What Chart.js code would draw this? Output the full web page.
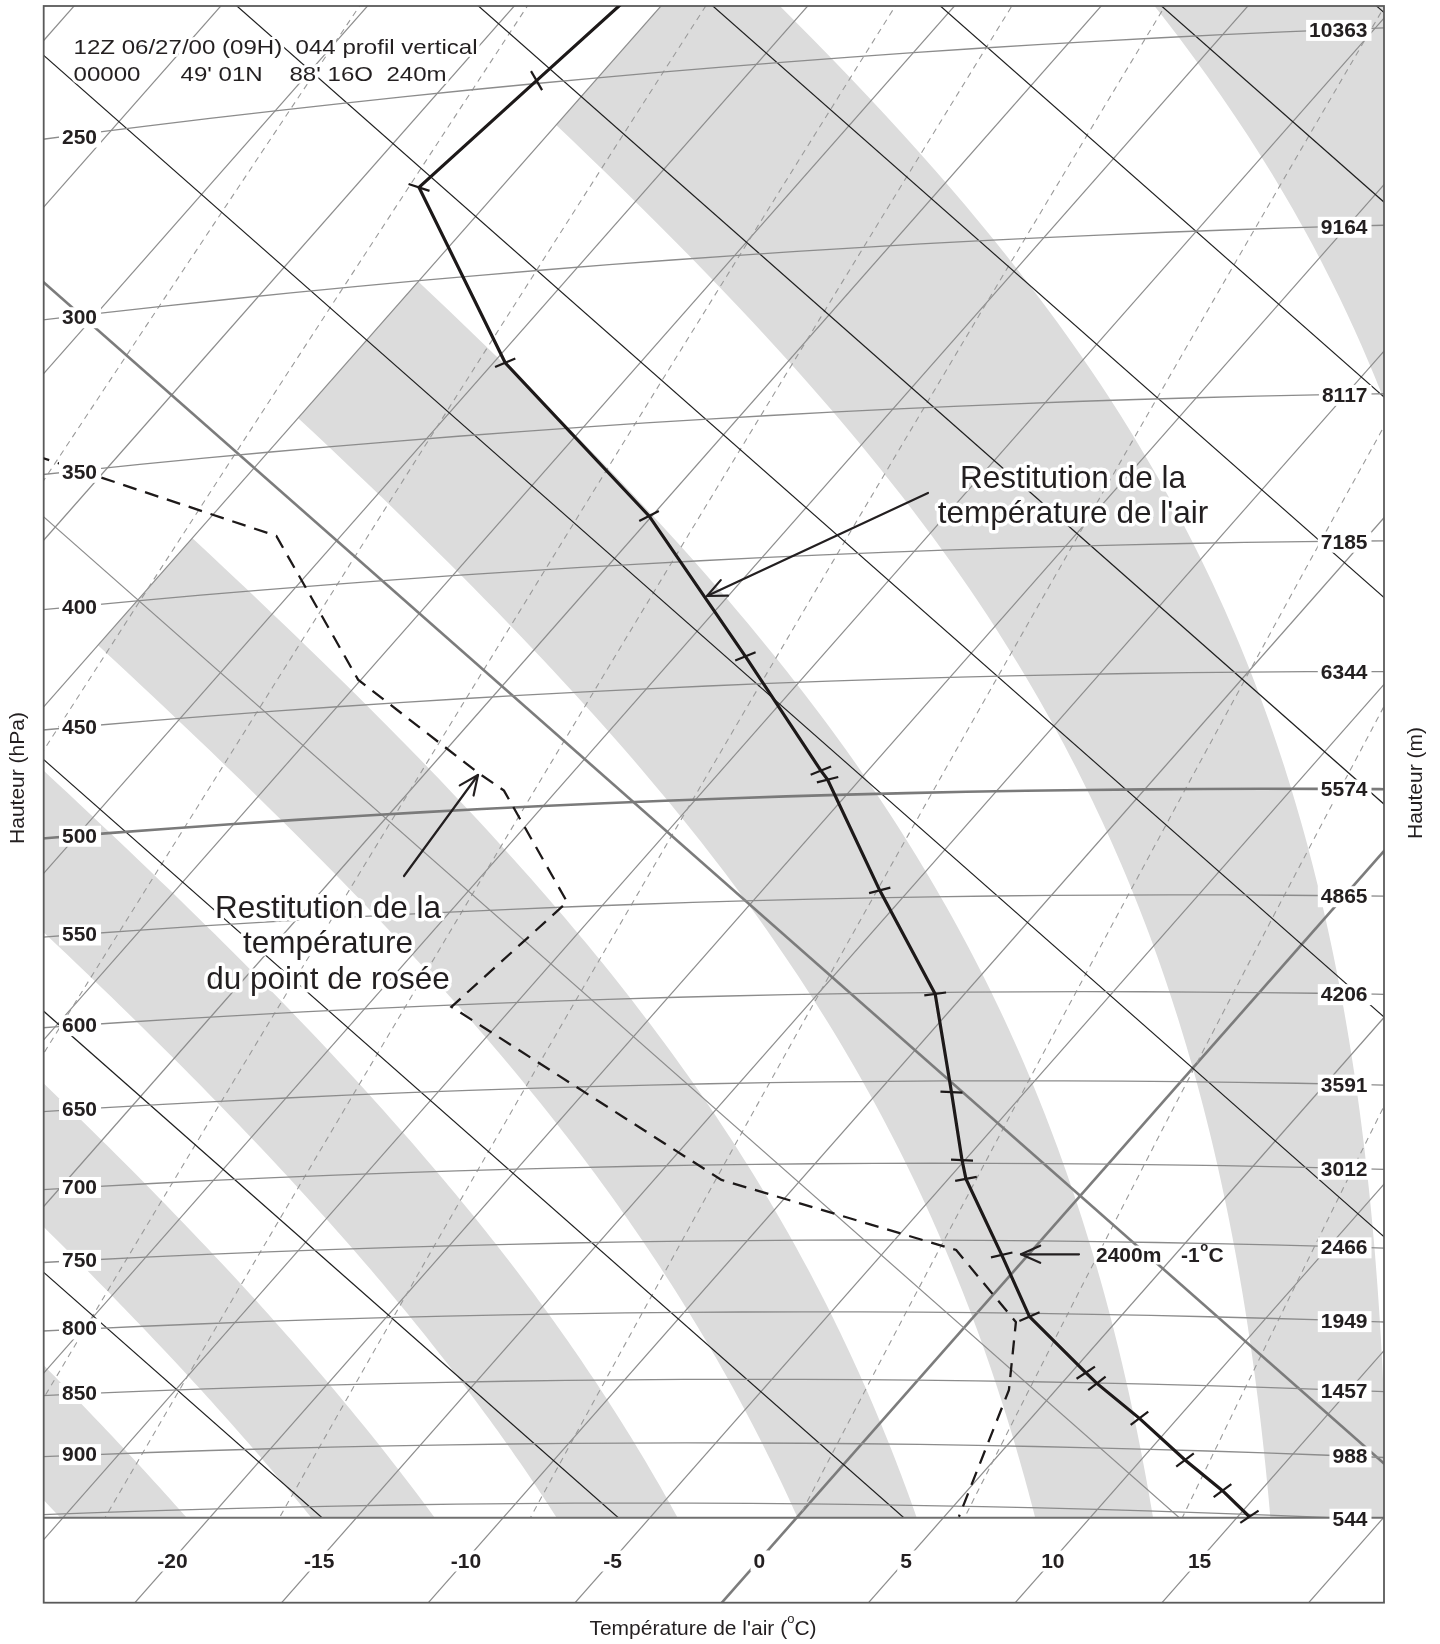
<!DOCTYPE html>
<html lang="fr">
<head>
<meta charset="utf-8">
<title>Profil vertical</title>
<script src="https://cdn.jsdelivr.net/npm/chart.js@4.4.1/dist/chart.umd.min.js"></script>
<style>
html,body{margin:0;padding:0;background:#fff;}
#box{position:relative;width:1440px;height:1644px;}
canvas{display:block;}
</style>
</head>
<body>
<div id="box"><canvas id="chart" width="1440" height="1644"></canvas></div>
<script>
// ---------------- data ----------------
const isobarLevels = [250,300,350,400,450,500,550,600,650,700,750,800,850,900,950];
const pressureLabels = ['250','300','350','400','450','500','550','600','650','700','750','800','850','900',''];
const heightLabels = ['10363','9164','8117','7185','6344','5574','4865','4206','3591','3012','2466','1949','1457','988','544'];
const temperatureTicks = [-20,-15,-10,-5,0,5,10,15];
const isothermValues = [-80,-75,-70,-65,-60,-55,-50,-45,-40,-35,-30,-25,-20,-15,-10,-5,0,5,10,15,20,25,30];
const dryAdiabatsBlack = [260,270,280,310,320,330,340,350,360,370];
const dryAdiabatsGray = [290];
const dryAdiabatsGrayBold = [300];
const wetBulbBands = [[-22,-18],[-14,-10],[-6,-2],[2,6],[10,14],[18,22],[26,30]];
const bandCutTemperature = -50;
const mixingRatios = [0.05,0.1,0.2,0.4,0.6,1,2,4,6,10,16];
// sounding : temperature de l'air
const airPressure = [230,249.3,273.8,327.2,382.4,438.4,488.7,492.9,546.3,600.8,656.6,698,709.9,759.7,802.4,842.5,850.3,876.1,907.6,931.3,951.9];
const airTemp     = [-51.3,-52.0,-52.8,-44.6,-35.1,-27.6,-21.6,-21.1,-16.0,-11.0,-7.5,-5.1,-4.4,-0.9,1.9,5.5,6.2,8.7,11.5,13.7,15.4];
// sounding : point de rosee
const dewPressure = [343.3,380,439.1,483.2,491.9,547.5,601,709.7,756.6,806.4,856.5,958.9];
const dewTemp     = [-57.8,-47.2,-40.1,-33.2,-31.8,-26.3,-27.1,-12.7,-2.6,1.6,3.4,5.5];

// ---------------- tephigram geometry ----------------
const X0=1080.2, Y0=1195.8, A=16.52, B=3431, C=14.56, D=-3895, KAPPA=0.2857;
const PLOT={l:43.7,t:6,r:1384,b:1517.7};
const FRAME_B=1602.7;
function toPlane(T,P){const v=Math.log((T+273.15)/300)+KAPPA*Math.log(1000/P);return {x:X0+A*T+B*v,y:Y0+C*T+D*v};}
function thetaPlane(T,theta){const v=Math.log(theta/300);return {x:X0+A*T+B*v,y:Y0+C*T+D*v};}
function vPlane(T,v){return {x:X0+A*T+B*v,y:Y0+C*T+D*v};}
function isothermAtY(T,y){const v=(y-Y0-C*T)/D;return X0+A*T+B*v;}
function isobarAt(P,xq){let lo=-160,hi=90;for(let k=0;k<60;k++){const m=(lo+hi)/2;if(toPlane(m,P).x<xq)lo=m;else hi=m;}return toPlane((lo+hi)/2,P);}
function es(T){return 6.112*Math.exp(17.67*T/(T+243.5));}
function rsat(T,P){const e=es(T);return 0.622*e/(P-e);}
function dTdP(T,P){const TK=T+273.15,r=rsat(T,P),Rd=287.04,cp=1005.7,Lv=2.501e6,eps=0.622;
  return (Rd*TK+Lv*r)/(P*(cp+Lv*Lv*r*eps/(Rd*TK*TK)));}
function rk4(T,P,h){const k1=dTdP(T,P),k2=dTdP(T+h*k1/2,P+h/2),k3=dTdP(T+h*k2/2,P+h/2),k4=dTdP(T+h*k3,P+h);return T+h*(k1+2*k2+2*k3+k4)/6;}
function moistPath(thw){
  const up=[],down=[];let T=thw,P=1000;up.push(toPlane(T,P));
  while(P>100){T=rk4(T,P,-5);P-=5;up.push(toPlane(T,P));}
  T=thw;P=1000;while(P<1100){T=rk4(T,P,5);P+=5;down.push(toPlane(T,P));}
  return down.reverse().concat(up);
}
function dewFromMix(r,P){const e=r*P/(622+r);const l=Math.log(e/6.112);return 243.5*l/(17.67-l);}

const bandPolys = wetBulbBands.map(([a,b])=>moistPath(a).concat(moistPath(b).reverse()));

const INK='#231f20';
const FONT='"Liberation Sans", Arial, sans-serif';

function tephiPlugin(){
  return {
  id:'tephi',
  beforeDatasetsDraw(chart){
    const ctx=chart.ctx, sx=chart.scales.x, sy=chart.scales.y;
    const X=v=>sx.getPixelForValue(v), Y=v=>sy.getPixelForValue(v);
    const poly=(pts)=>{ctx.beginPath();pts.forEach((p,i)=>{i?ctx.lineTo(X(p.x),Y(p.y)):ctx.moveTo(X(p.x),Y(p.y));});};
    const seg=(p,q)=>{ctx.beginPath();ctx.moveTo(X(p.x),Y(p.y));ctx.lineTo(X(q.x),Y(q.y));ctx.stroke();};
    ctx.save();
    ctx.fillStyle='#fff';ctx.fillRect(0,0,chart.width,chart.height);
    // ---- bands
    ctx.save();
    ctx.beginPath();ctx.rect(X(PLOT.l),Y(PLOT.t),X(PLOT.r)-X(PLOT.l),Y(PLOT.b)-Y(PLOT.t));ctx.clip();
    const c1=vPlane(bandCutTemperature,-1), c2=vPlane(bandCutTemperature,1);
    const n=Math.hypot(A,C), dx=A/n*6000, dy=C/n*6000;
    ctx.beginPath();ctx.moveTo(X(c1.x),Y(c1.y));ctx.lineTo(X(c2.x),Y(c2.y));
    ctx.lineTo(X(c2.x+dx),Y(c2.y+dy));ctx.lineTo(X(c1.x+dx),Y(c1.y+dy));ctx.closePath();ctx.clip();
    ctx.fillStyle='#dcdcdc';
    bandPolys.forEach(p=>{poly(p);ctx.closePath();ctx.fill();});
    ctx.restore();
    // ---- isotherms (down to frame bottom)
    ctx.save();
    ctx.beginPath();ctx.rect(X(PLOT.l),Y(PLOT.t),X(PLOT.r)-X(PLOT.l),Y(FRAME_B)-Y(PLOT.t));ctx.clip();
    isothermValues.forEach(T=>{
      ctx.strokeStyle=T===0?'#7c7c7c':'#8c8c8c';ctx.lineWidth=T===0?2.6:1.2;
      seg(vPlane(T,-0.6),vPlane(T,0.6));
    });
    ctx.restore();
    // ---- plot-area lines
    ctx.save();
    ctx.beginPath();ctx.rect(X(PLOT.l),Y(PLOT.t),X(PLOT.r)-X(PLOT.l),Y(PLOT.b)-Y(PLOT.t));ctx.clip();
    // mixing ratio
    ctx.setLineDash([6,5]);ctx.strokeStyle='#9a9a9a';ctx.lineWidth=1.1;
    mixingRatios.forEach(r=>{const pts=[];for(let P=1100;P>=120;P-=10)pts.push(toPlane(dewFromMix(r,P),P));poly(pts);ctx.stroke();});
    ctx.setLineDash([]);
    // dry adiabats
    ctx.strokeStyle='#1e1e1e';ctx.lineWidth=1.2;
    dryAdiabatsBlack.forEach(th=>seg(thetaPlane(-130,th),thetaPlane(70,th)));
    ctx.strokeStyle='#8c8c8c';ctx.lineWidth=1.2;
    dryAdiabatsGray.forEach(th=>seg(thetaPlane(-130,th),thetaPlane(70,th)));
    ctx.strokeStyle='#7c7c7c';ctx.lineWidth=2.6;
    dryAdiabatsGrayBold.forEach(th=>seg(thetaPlane(-130,th),thetaPlane(70,th)));
    // isobars
    isobarLevels.forEach(P=>{
      const pts=[];for(let T=-120;T<=60;T+=2)pts.push(toPlane(T,P));
      ctx.strokeStyle=P===500?'#7a7a7a':'#8c8c8c';ctx.lineWidth=P===500?2.6:1.3;
      poly(pts);ctx.stroke();
    });
    ctx.restore();
    // bottom line and frame
    ctx.strokeStyle='#707070';ctx.lineWidth=2;
    ctx.beginPath();ctx.moveTo(X(PLOT.l),Y(PLOT.b));ctx.lineTo(X(PLOT.r),Y(PLOT.b));ctx.stroke();
    ctx.strokeStyle='#5a5a5a';ctx.lineWidth=1.8;
    ctx.strokeRect(X(PLOT.l),Y(PLOT.t),X(PLOT.r)-X(PLOT.l),Y(FRAME_B)-Y(PLOT.t));
    ctx.restore();
  },
  afterDatasetsDraw(chart){
    const ctx=chart.ctx, sx=chart.scales.x, sy=chart.scales.y;
    const X=v=>sx.getPixelForValue(v), Y=v=>sy.getPixelForValue(v);
    ctx.save();
    ctx.textBaseline='alphabetic';
    const boxText=(txt,x,y,font,align)=>{
      if(!txt)return;
      ctx.font=font;ctx.textAlign=align;const w=ctx.measureText(txt).width;
      let l=align==='left'?x:(align==='right'?x-w:x-w/2);
      ctx.fillStyle='#fff';ctx.fillRect(l-3,y-17,w+7,21);
      ctx.fillStyle=INK;ctx.fillText(txt,x,y);
    };
    const halo=(txt,x,y,font,align,hw)=>{
      ctx.font=font;ctx.textAlign=align;ctx.lineJoin='round';
      ctx.lineWidth=hw;ctx.strokeStyle='#fff';ctx.strokeText(txt,x,y);
      ctx.fillStyle=INK;ctx.fillText(txt,x,y);
    };
    // pressure labels (left) and heights (right)
    const bold='bold 21px '+FONT;
    isobarLevels.forEach((P,i)=>{
      const pl=isobarAt(P,PLOT.l+0.5), pr=isobarAt(P,1344);
      boxText(pressureLabels[i],X(62),Y(pl.y-3)+7.5,bold,'left');
      boxText(heightLabels[i],X(1367.5),Y(pr.y)+7.5,bold,'right');
    });
    // temperature labels
    temperatureTicks.forEach(T=>{
      boxText(String(T),X(isothermAtY(T,1560)),Y(1560)+7.5,bold,'center');
    });
    // title block
    ctx.save();
    ctx.font='21px '+FONT;
    const l1='12Z 06/27/00 (09H)  044 profil vertical', l2='00000      49\' 01N    88\' 16O  240m';
    const sc=404/ctx.measureText(l1).width;
    ctx.translate(X(73.5),0);ctx.scale(sc,1);
    halo(l1,0,Y(53.5),'21px '+FONT,'left',6);
    halo(l2,0,Y(80.5),'21px '+FONT,'left',6);
    ctx.restore();
    // annotations
    const big='31.5px '+FONT;
    halo('Restitution de la',X(1073),Y(487.5),big,'center',7);
    halo('température de l\'air',X(1073),Y(522.5),big,'center',7);
    halo('Restitution de la',X(328),Y(917.5),big,'center',7);
    halo('température',X(328),Y(953),big,'center',7);
    halo('du point de rosée',X(328),Y(988.5),big,'center',7);
    const arrow=(x1,y1,x2,y2)=>{
      ctx.strokeStyle=INK;ctx.lineWidth=2.2;ctx.lineCap='round';
      ctx.beginPath();ctx.moveTo(X(x1),Y(y1));ctx.lineTo(X(x2),Y(y2));ctx.stroke();
      const ang=Math.atan2(y2-y1,x2-x1),L=21,s=0.42;
      ctx.beginPath();
      ctx.moveTo(X(x2-L*Math.cos(ang-s)),Y(y2-L*Math.sin(ang-s)));ctx.lineTo(X(x2),Y(y2));
      ctx.lineTo(X(x2-L*Math.cos(ang+s)),Y(y2-L*Math.sin(ang+s)));ctx.stroke();
    };
    arrow(928,493,707,596);
    arrow(404,876,478,775);
    arrow(1079,1254.3,1021,1254.3);
    halo('2400m',X(1096),Y(1262),bold,'left',5);
    ctx.font=bold;ctx.textAlign='left';ctx.fillStyle=INK;
    const wm=ctx.measureText('-1').width;
    ctx.fillText('-1',X(1181),Y(1262));
    ctx.font='bold 13px '+FONT;const wo=ctx.measureText('o').width;
    ctx.fillText('o',X(1181)+wm+0.5,Y(1251));
    ctx.font=bold;ctx.fillText('C',X(1181)+wm+wo+1,Y(1262));
    // axis titles
    const reg='21px '+FONT;
    ctx.font=reg;ctx.fillStyle=INK;ctx.textAlign='center';
    ctx.save();ctx.translate(X(24),Y(778));ctx.rotate(-Math.PI/2);ctx.fillText('Hauteur (hPa)',0,0);ctx.restore();
    ctx.save();ctx.translate(X(1422),Y(783));ctx.rotate(-Math.PI/2);ctx.fillText('Hauteur (m)',0,0);ctx.restore();
    // bottom title with superscript o
    const t1='Température de l\'air (', t3='C)';
    ctx.font=reg;const w1=ctx.measureText(t1).width,w3=ctx.measureText(t3).width;
    ctx.font='13px '+FONT;const w2=ctx.measureText('o').width;
    let xs=X(703)-(w1+w2+w3)/2;
    ctx.textAlign='left';ctx.font=reg;ctx.fillText(t1,xs,Y(1635));
    ctx.font='13px '+FONT;ctx.fillText('o',xs+w1,Y(1623));
    ctx.font=reg;ctx.fillText(t3,xs+w1+w2,Y(1635));
    ctx.restore();
  }};
}

const clipBox={left:-PLOT.l,top:-PLOT.t,right:-(1440-PLOT.r),bottom:-(1644-1526)};
const airPts=airPressure.map((p,i)=>toPlane(airTemp[i],p));
const dewPts=dewPressure.map((p,i)=>toPlane(dewTemp[i],p));

new Chart(document.getElementById('chart'),{
  type:'scatter',
  data:{datasets:[
    {label:'Température de l\'air',data:airPts,showLine:true,borderColor:'#1d1919',borderWidth:3.2,
     pointStyle:'line',pointBorderColor:'#1d1919',pointBorderWidth:2.2,
     pointRadius:c=>c.dataIndex===0?0:11,
     pointRotation:c=>{const d=c.dataset.data,i=c.dataIndex;const a=d[Math.max(0,i-1)],b=d[Math.min(d.length-1,i+1)];
        const phi=Math.atan2(b.y-a.y,b.x-a.x)*180/Math.PI;return phi-78;},
     clip:clipBox,order:1},
    {label:'Point de rosée',data:dewPts,showLine:true,borderColor:'#1d1919',borderWidth:2.3,borderDash:[14,9],
     pointRadius:0,clip:clipBox,order:2}
  ]},
  options:{responsive:false,animation:false,devicePixelRatio:1,events:[],
    layout:{padding:0,autoPadding:false},
    plugins:{legend:{display:false},tooltip:{enabled:false}},
    scales:{x:{type:'linear',min:0,max:1440,display:false,grace:0},y:{type:'linear',min:0,max:1644,reverse:true,display:false,grace:0}}},
  plugins:[tephiPlugin()]
});
</script>
</body>
</html>
